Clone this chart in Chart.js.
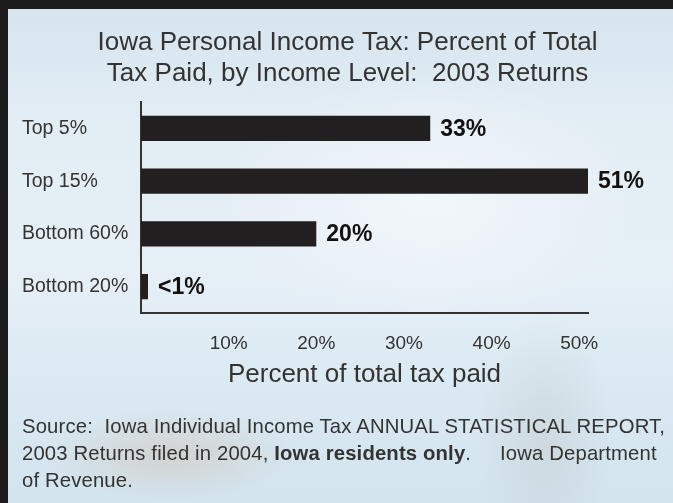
<!DOCTYPE html>
<html>
<head>
<meta charset="utf-8">
<script src="https://cdn.jsdelivr.net/npm/chart.js@4"></script>
<style>
  html, body { margin: 0; padding: 0; }
  body {
    width: 673px; height: 503px; overflow: hidden; position: relative;
    background:
      radial-gradient(ellipse 170px 60px at 170px 455px, rgba(200,165,135,0.30), rgba(200,165,135,0) 75%),
      radial-gradient(ellipse 90px 170px at 545px 440px, rgba(185,185,185,0.30), rgba(185,185,185,0) 75%),
      radial-gradient(ellipse 260px 160px at 430px 200px, rgba(245,249,252,0.8), rgba(245,249,252,0) 80%),
      linear-gradient(180deg, #d6e4ee 0%, #e3edf4 25%, #e6eff6 55%, #d9e8f1 80%, #d3e4ee 100%);
    font-family: "Liberation Sans", Arial, sans-serif;
  }
  #c { position: absolute; left: 0; top: 0; }
  .bandTop { position: absolute; left: 0; top: 0; width: 673px; height: 9px; background: #1c1c1c; }
  .bandLeft { position: absolute; left: 0; top: 0; width: 8px; height: 503px; background: #1c1c1c; }
  #source {
    position: absolute; left: 22px; top: 413px; width: 660px;
    font-size: 20.3px; letter-spacing: 0.15px; line-height: 27px; color: #333; white-space: nowrap;
  }
</style>
</head>
<body>
<canvas id="c" width="673" height="503"></canvas>
<div class="bandTop"></div>
<div class="bandLeft"></div>
<div id="source">Source:&nbsp; Iowa Individual Income Tax ANNUAL STATISTICAL REPORT,<br>2003 Returns filed in 2004, <b>Iowa residents only</b>.&nbsp;&nbsp;&nbsp;&nbsp; Iowa Department<br>of Revenue.</div>
<script>
const titleLines = ['Iowa Personal Income Tax: Percent of Total', 'Tax Paid, by Income Level:  2003 Returns'];
const categories = ['Top 5%', 'Top 15%', 'Bottom 60%', 'Bottom 20%'];
const shareOfTax = [33, 51, 20, 0.8];
const valueLabels = ['33%', '51%', '20%', '<1%'];
const xTickValues = [10, 20, 30, 40, 50];
const xAxisTitle = 'Percent of total tax paid';

const FONT = '"Liberation Sans", Arial, sans-serif';

const valueLabelPlugin = {
  id: 'valueLabels',
  afterDatasetsDraw(chart) {
    const ctx = chart.ctx;
    const meta = chart.getDatasetMeta(0);
    ctx.save();
    ctx.font = 'bold 23px ' + FONT;
    ctx.fillStyle = '#111';
    ctx.textAlign = 'left';
    ctx.textBaseline = 'middle';
    meta.data.forEach((bar, i) => {
      ctx.fillText(valueLabels[i], bar.x + 10, bar.y + 1);
    });
    ctx.restore();
  }
};

new Chart(document.getElementById('c'), {
  type: 'bar',
  data: {
    labels: categories,
    datasets: [{
      data: shareOfTax,
      backgroundColor: '#221f20',
      borderWidth: 0,
      barPercentage: 0.48,
      categoryPercentage: 1
    }]
  },
  plugins: [valueLabelPlugin],
  options: {
    indexAxis: 'y',
    responsive: false,
    animation: false,
    layout: { padding: { left: 22, right: 0, top: 0, bottom: 0 } },
    plugins: {
      legend: { display: false },
      tooltip: { enabled: false },
      title: {
        display: true,
        text: titleLines,
        color: '#333',
        font: { family: FONT, size: 26, weight: 'normal', lineHeight: 1.2 },
        padding: { top: 27, bottom: 12.6 }
      }
    },
    scales: {
      x: {
        type: 'linear',
        min: 0,
        max: 51,
        afterBuildTicks: (scale) => { scale.ticks = xTickValues.map(v => ({ value: v })); },
        afterFit: (scale) => { scale.height = 190; },
        grid: { display: false, drawTicks: false },
        border: { display: true, color: '#333', width: 2 },
        ticks: {
          color: '#333',
          padding: 19,
          font: { family: FONT, size: 19 },
          callback: (v) => v + '%'
        },
        title: {
          display: true,
          text: xAxisTitle,
          color: '#333',
          font: { family: FONT, size: 26 },
          padding: { top: 0, bottom: 113 }
        }
      },
      y: {
        type: 'category',
        afterFit: (scale) => { scale.width = 119; },
        grid: { display: false, drawTicks: false },
        border: { display: true, color: '#333', width: 2 },
        ticks: {
          color: '#333',
          crossAlign: 'far',
          font: { family: FONT, size: 19.5 }
        }
      },
      rightPad: {
        type: 'linear',
        position: 'right',
        display: true,
        afterFit: (scale) => { scale.width = 85; },
        grid: { display: false, drawTicks: false },
        border: { display: false },
        ticks: { display: false }
      }
    }
  }
});
</script>
</body>
</html>
